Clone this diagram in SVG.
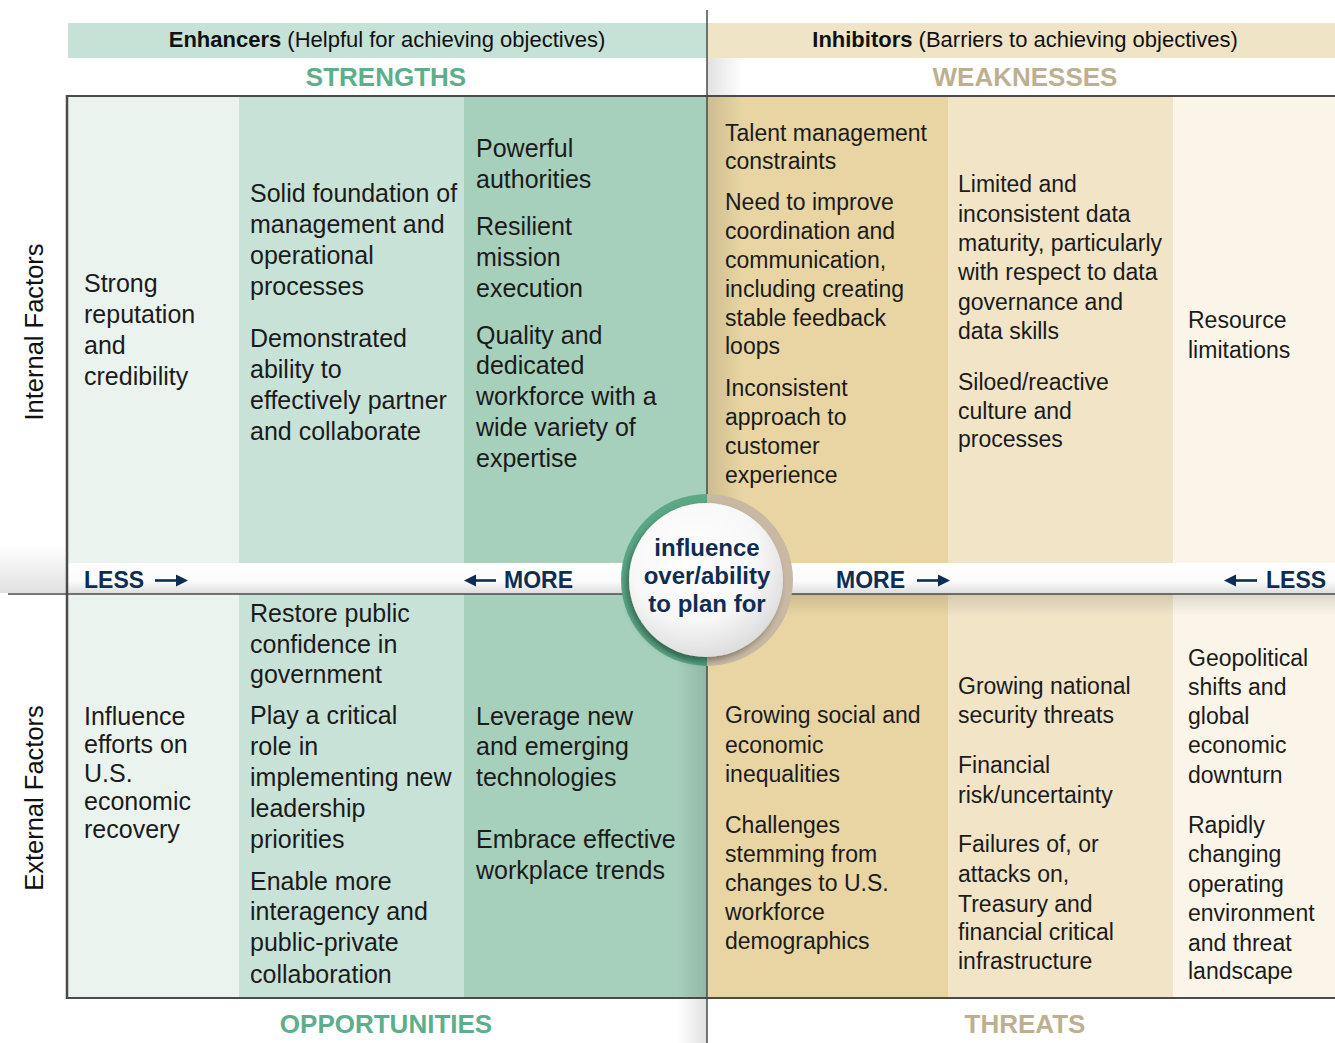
<svg xmlns="http://www.w3.org/2000/svg" width="1335" height="1043" viewBox="0 0 1335 1043">
<defs>
<style>
.t{font-family:"Liberation Sans",Arial,Helvetica,sans-serif;fill:#1b1b1b}
.l{font-size:25px}
.r{font-size:23px}
.hdr{font-size:22px;fill:#111}
.ttl{font-weight:bold;font-size:26px}
.gr{fill:#5DAE8A}
.tn{fill:#BDB091}
.nav{font-weight:bold;fill:#0F2D52}
.ax{font-size:25.5px;fill:#111}
.ln{stroke:#4a4a4a;fill:none}
.arr{stroke:#0F2D52;stroke-width:2.6;fill:none}
.ah{fill:#0F2D52}
</style>
<linearGradient id="band" x1="0" y1="0" x2="0" y2="1">
<stop offset="0" stop-color="#ffffff"/>
<stop offset="0.6" stop-color="#fbfbfb"/>
<stop offset="1" stop-color="#dcdcdc"/>
</linearGradient>
<linearGradient id="shR" x1="0" y1="0" x2="1" y2="0">
<stop offset="0" stop-color="#000" stop-opacity="0.12"/>
<stop offset="1" stop-color="#000" stop-opacity="0"/>
</linearGradient>
<linearGradient id="shL" x1="1" y1="0" x2="0" y2="0">
<stop offset="0" stop-color="#000" stop-opacity="0.12"/>
<stop offset="1" stop-color="#000" stop-opacity="0"/>
</linearGradient>
<linearGradient id="shD" x1="0" y1="0" x2="0" y2="1">
<stop offset="0" stop-color="#000" stop-opacity="0.12"/>
<stop offset="1" stop-color="#000" stop-opacity="0"/>
</linearGradient>
<radialGradient id="disc" cx="0.42" cy="0.35" r="0.7">
<stop offset="0" stop-color="#ffffff"/>
<stop offset="0.6" stop-color="#f7f7f7"/>
<stop offset="1" stop-color="#d9d9d9"/>
</radialGradient>
<filter id="ds" x="-30%" y="-30%" width="160%" height="160%">
<feDropShadow dx="-3" dy="4" stdDeviation="3" flood-color="#000" flood-opacity="0.35"/>
</filter>
</defs>

<rect x="0" y="0" width="1335" height="1043" fill="#ffffff"/>

<g id="header">
<rect x="68" y="23" width="639" height="35" fill="#C6E2D7"/>
<rect x="707" y="23" width="628" height="35" fill="#F0E4C6"/>
<text class="t hdr" x="387" y="47" text-anchor="middle"><tspan font-weight="bold">Enhancers</tspan> (Helpful for achieving objectives)</text>
<text class="t hdr" x="1025" y="47" text-anchor="middle"><tspan font-weight="bold">Inhibitors</tspan> (Barriers to achieving objectives)</text>
<text class="t ttl gr" x="386" y="86" text-anchor="middle">STRENGTHS</text>
<text class="t ttl tn" x="1025" y="86" text-anchor="middle">WEAKNESSES</text>
<text class="t ttl gr" x="386" y="1033" text-anchor="middle">OPPORTUNITIES</text>
<text class="t ttl tn" x="1025" y="1033" text-anchor="middle">THREATS</text>
<text class="t ax" transform="translate(43 332) rotate(-90)" text-anchor="middle">Internal Factors</text>
<text class="t ax" transform="translate(43 798) rotate(-90)" text-anchor="middle">External Factors</text>
</g>

<g id="columns">
<rect x="67" y="96" width="172" height="902" fill="#EBF3EF"/>
<rect x="239" y="96" width="225" height="902" fill="#C8E2D7"/>
<rect x="464" y="96" width="243" height="902" fill="#A6CFBC"/>
<rect x="707" y="96" width="241" height="902" fill="#E8D5A3"/>
<rect x="948" y="96" width="225" height="902" fill="#F1E4C7"/>
<rect x="1173" y="96" width="162" height="902" fill="#FAF5E8"/>
<rect x="707" y="58" width="36" height="505" fill="url(#shR)"/>
<rect x="677" y="594" width="30" height="449" fill="url(#shL)"/>
<rect x="707" y="594" width="628" height="22" fill="url(#shD)"/>
<rect x="0" y="545" width="67" height="48" fill="url(#shD)" transform="rotate(180 33.5 569)"/>
<rect x="67" y="563" width="1268" height="31" fill="url(#band)"/>
</g>

<g id="connectors">
<line class="ln" x1="67" y1="96" x2="1335" y2="96" stroke-width="2"/>
<line class="ln" x1="67" y1="998" x2="1335" y2="998" stroke-width="2"/>
<line class="ln" x1="67" y1="95" x2="67" y2="999" stroke-width="2.5"/>
<line class="ln" x1="707" y1="10" x2="707" y2="1043" stroke-width="1.5"/>
<line class="ln" x1="8" y1="594" x2="1335" y2="594" stroke-width="1.5"/>
</g>

<g id="scale-labels">
<text class="t nav" x="84" y="588" font-size="23">LESS</text>
<line class="arr" x1="155" y1="580.5" x2="178" y2="580.5"/>
<polygon class="ah" points="188,580.5 176,574.5 176,586.5"/>
<line class="arr" x1="474" y1="580.5" x2="496" y2="580.5"/>
<polygon class="ah" points="464,580.5 476,574.5 476,586.5"/>
<text class="t nav" x="504" y="588" font-size="23">MORE</text>
<text class="t nav" x="836" y="588" font-size="23">MORE</text>
<line class="arr" x1="917" y1="580.5" x2="940" y2="580.5"/>
<polygon class="ah" points="950,580.5 938,574.5 938,586.5"/>
<line class="arr" x1="1234" y1="580.5" x2="1257" y2="580.5"/>
<polygon class="ah" points="1224,580.5 1236,574.5 1236,586.5"/>
<text class="t nav" x="1266" y="588" font-size="23">LESS</text>
</g>

<g id="center">
<path d="M707 494 A86 86 0 0 0 707 666 Z" fill="#5BA886"/>
<path d="M707 494 A86 86 0 0 1 707 666 Z" fill="#C8B8A4"/>
<path d="M640 620 A86 86 0 0 0 707 666 L707 657 A77 77 0 0 1 646 615 Z" fill="#4A9272" opacity="0.6"/>
<circle cx="706" cy="580" r="77" fill="url(#disc)" filter="url(#ds)"/>
<text class="t nav" font-size="24" text-anchor="middle"><tspan x="707" y="556">influence</tspan><tspan x="707" y="584">over/ability</tspan><tspan x="707" y="612">to plan for</tspan></text>
</g>

<g id="strengths">
<text class="t l"><tspan x="84" y="292">Strong</tspan><tspan x="84" y="323">reputation</tspan><tspan x="84" y="354">and</tspan><tspan x="84" y="385">credibility</tspan></text>
<text class="t l"><tspan x="250" y="202">Solid foundation of</tspan><tspan x="250" y="233">management and</tspan><tspan x="250" y="264">operational</tspan><tspan x="250" y="295">processes</tspan><tspan x="250" y="347">Demonstrated</tspan><tspan x="250" y="378">ability to</tspan><tspan x="250" y="409">effectively partner</tspan><tspan x="250" y="440">and collaborate</tspan></text>
<text class="t l"><tspan x="476" y="157">Powerful</tspan><tspan x="476" y="188">authorities</tspan><tspan x="476" y="235">Resilient</tspan><tspan x="476" y="266">mission</tspan><tspan x="476" y="297">execution</tspan><tspan x="476" y="344">Quality and</tspan><tspan x="476" y="374">dedicated</tspan><tspan x="476" y="405">workforce with a</tspan><tspan x="476" y="436">wide variety of</tspan><tspan x="476" y="467">expertise</tspan></text>
</g>

<g id="weaknesses">
<text class="t r"><tspan x="725" y="141">Talent management</tspan><tspan x="725" y="169">constraints</tspan><tspan x="725" y="210">Need to improve</tspan><tspan x="725" y="239">coordination and</tspan><tspan x="725" y="268">communication,</tspan><tspan x="725" y="297">including creating</tspan><tspan x="725" y="326">stable feedback</tspan><tspan x="725" y="354">loops</tspan><tspan x="725" y="396">Inconsistent</tspan><tspan x="725" y="425">approach to</tspan><tspan x="725" y="454">customer</tspan><tspan x="725" y="483">experience</tspan></text>
<text class="t r"><tspan x="958" y="192">Limited and</tspan><tspan x="958" y="222">inconsistent data</tspan><tspan x="958" y="251">maturity, particularly</tspan><tspan x="958" y="280">with respect to data</tspan><tspan x="958" y="310">governance and</tspan><tspan x="958" y="339">data skills</tspan><tspan x="958" y="390">Siloed/reactive</tspan><tspan x="958" y="419">culture and</tspan><tspan x="958" y="447">processes</tspan></text>
<text class="t r"><tspan x="1188" y="328">Resource</tspan><tspan x="1188" y="358">limitations</tspan></text>
</g>

<g id="opportunities">
<text class="t l"><tspan x="84" y="725">Influence</tspan><tspan x="84" y="753">efforts on</tspan><tspan x="84" y="782">U.S.</tspan><tspan x="84" y="810">economic</tspan><tspan x="84" y="838">recovery</tspan></text>
<text class="t l"><tspan x="250" y="622">Restore public</tspan><tspan x="250" y="653">confidence in</tspan><tspan x="250" y="683">government</tspan><tspan x="250" y="724">Play a critical</tspan><tspan x="250" y="755">role in</tspan><tspan x="250" y="786">implementing new</tspan><tspan x="250" y="817">leadership</tspan><tspan x="250" y="848">priorities</tspan><tspan x="250" y="890">Enable more</tspan><tspan x="250" y="920">interagency and</tspan><tspan x="250" y="951">public-private</tspan><tspan x="250" y="983">collaboration</tspan></text>
<text class="t l"><tspan x="476" y="725">Leverage new</tspan><tspan x="476" y="755">and emerging</tspan><tspan x="476" y="786">technologies</tspan><tspan x="476" y="848">Embrace effective</tspan><tspan x="476" y="879">workplace trends</tspan></text>
</g>

<g id="threats">
<text class="t r"><tspan x="725" y="723">Growing social and</tspan><tspan x="725" y="753">economic</tspan><tspan x="725" y="782">inequalities</tspan><tspan x="725" y="833">Challenges</tspan><tspan x="725" y="862">stemming from</tspan><tspan x="725" y="891">changes to U.S.</tspan><tspan x="725" y="920">workforce</tspan><tspan x="725" y="949">demographics</tspan></text>
<text class="t r"><tspan x="958" y="694">Growing national</tspan><tspan x="958" y="723">security threats</tspan><tspan x="958" y="773">Financial</tspan><tspan x="958" y="803">risk/uncertainty</tspan><tspan x="958" y="852">Failures of, or</tspan><tspan x="958" y="882">attacks on,</tspan><tspan x="958" y="912">Treasury and</tspan><tspan x="958" y="940">financial critical</tspan><tspan x="958" y="969">infrastructure</tspan></text>
<text class="t r"><tspan x="1188" y="666">Geopolitical</tspan><tspan x="1188" y="695">shifts and</tspan><tspan x="1188" y="724">global</tspan><tspan x="1188" y="753">economic</tspan><tspan x="1188" y="783">downturn</tspan><tspan x="1188" y="833">Rapidly</tspan><tspan x="1188" y="862">changing</tspan><tspan x="1188" y="892">operating</tspan><tspan x="1188" y="921">environment</tspan><tspan x="1188" y="951">and threat</tspan><tspan x="1188" y="979">landscape</tspan></text>
</g>
</svg>
